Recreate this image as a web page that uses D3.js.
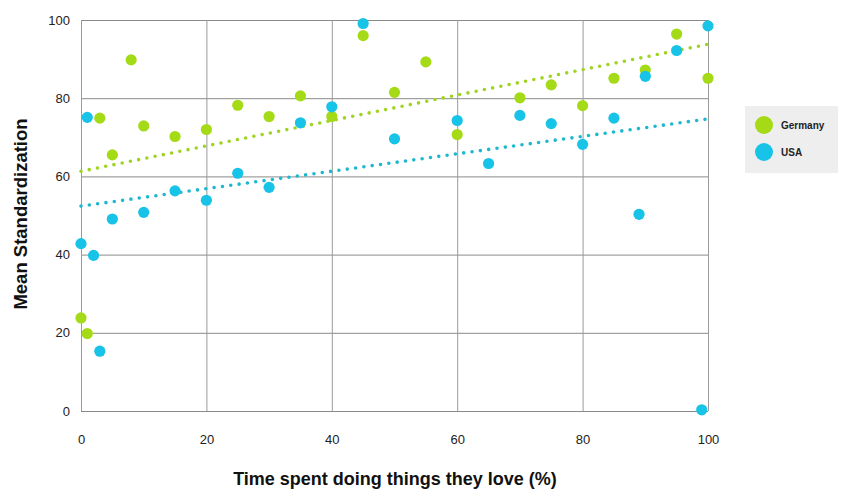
<!DOCTYPE html>
<html><head><meta charset="utf-8">
<script src="https://cdn.jsdelivr.net/npm/d3@7"></script>
<style>body{margin:0;background:#fff;font-family:"Liberation Sans",Arial,sans-serif}</style>
</head><body><svg id="c" width="850" height="500"></svg>
<script>
const germanyX = [0,1,3,5,8,10,15,20,25,30,35,40,45,50,55,60,70,75,80,85,90,95,100];
const germanyY = [23.8,19.8,74.9,65.5,89.8,72.9,70.2,72.0,78.2,75.3,80.6,75.3,96.0,81.5,89.3,70.7,80.1,83.4,78.1,85.1,87.2,96.4,85.1];
const usaX = [0,1,2,3,5,10,15,20,25,30,35,40,45,50,60,65,70,75,80,85,89,90,95,99,100];
const usaY = [42.8,75.1,39.8,15.3,49.1,50.8,56.3,53.9,60.8,57.2,73.7,77.8,99.1,69.6,74.3,63.3,75.6,73.5,68.2,74.9,50.3,85.6,92.2,0.3,98.5];
const germanyTrend = [61.3, 93.8];
const usaTrend = [52.4, 74.7];
const trendX = [0, 100];
const xTicks = [0,20,40,60,80,100];
const yTicks = [0,20,40,60,80,100];
const seriesNames = ["Germany","USA"];
const colors = ["#a4da16","#17c3e6"];
const trendColors = ["#9fd420","#1cb8cf"];

const svg = d3.select("#c");
const x = d3.scaleLinear().domain([0,100]).range([81,708]);
const y = d3.scaleLinear().domain([0,100]).range([411,20]);

// grid
const g = svg.append("g");
g.selectAll("line.h").data(yTicks).join("line")
  .attr("x1", x(0)).attr("x2", x(100))
  .attr("y1", d=>y(d)+0.5).attr("y2", d=>y(d)+0.5)
  .attr("stroke","#8a8a8a").attr("stroke-width",1);
g.selectAll("line.v").data(xTicks).join("line")
  .attr("y1", y(0)).attr("y2", y(100))
  .attr("x1", d=>x(d)+0.5).attr("x2", d=>x(d)+0.5)
  .attr("stroke","#9a9a9a").attr("stroke-width",1);

// axes labels
const xAxis = d3.axisBottom(x).tickValues(xTicks).tickSize(0).tickPadding(24);
const xa = svg.append("g").attr("transform",`translate(0,${y(0)})`).call(xAxis);
xa.select(".domain").remove();
xa.selectAll("text").attr("font-size",13).attr("fill","#222").attr("font-family","Liberation Sans, Arial, sans-serif");
const yAxis = d3.axisLeft(y).tickValues(yTicks).tickSize(0).tickPadding(11);
const ya = svg.append("g").attr("transform",`translate(${x(0)},0)`).call(yAxis);
ya.select(".domain").remove();
ya.selectAll("text").attr("font-size",13).attr("fill","#222").attr("font-family","Liberation Sans, Arial, sans-serif");

// trend lines
const line = d3.line().x(d=>x(d[0])).y(d=>y(d[1]));
[germanyTrend, usaTrend].forEach((t,i)=>{
  svg.append("path").datum(trendX.map((v,j)=>[v,t[j]]))
    .attr("d", line).attr("fill","none")
    .attr("stroke", trendColors[i]).attr("stroke-width",3.6)
    .attr("stroke-linecap","round").attr("stroke-dasharray","0 8.4");
});

// points
const gData = germanyX.map((v,i)=>[v,germanyY[i]]);
const uData = usaX.map((v,i)=>[v,usaY[i]]);
[gData, uData].forEach((data,i)=>{
  svg.append("g").selectAll("circle").data(data).join("circle")
    .attr("cx", d=>x(d[0])).attr("cy", d=>y(d[1])).attr("r",5.6)
    .attr("fill", colors[i]);
});

// titles
svg.append("text").attr("x",395).attr("y",485).attr("text-anchor","middle")
  .attr("font-size",18).attr("font-weight","bold").attr("fill","#111")
  .text("Time spent doing things they love (%)");
svg.append("text").attr("transform","translate(27,214) rotate(-90)").attr("text-anchor","middle")
  .attr("font-size",18.5).attr("font-weight","bold").attr("fill","#111")
  .text("Mean Standardization");

// legend
const lg = svg.append("g");
lg.append("rect").attr("x",745).attr("y",106).attr("width",93).attr("height",67).attr("fill","#eeeeee");
seriesNames.forEach((n,i)=>{
  lg.append("circle").attr("cx",764).attr("cy",125+i*27).attr("r",9).attr("fill",colors[i]);
  lg.append("text").attr("x",781).attr("y",129+i*27).attr("font-size",10).attr("font-weight","bold")
    .attr("fill","#222").text(n);
});
</script></body></html>
